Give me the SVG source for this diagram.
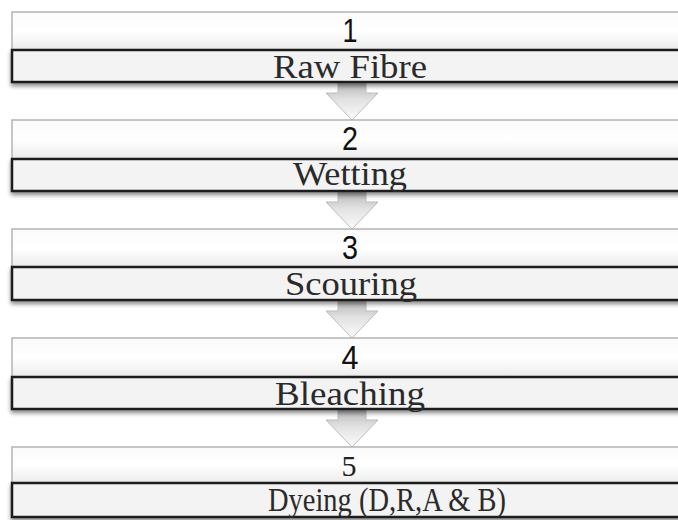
<svg xmlns="http://www.w3.org/2000/svg" width="678" height="520" viewBox="0 0 678 520">
<defs>
<linearGradient id="topfill" x1="0" y1="0" x2="0" y2="1">
<stop offset="0" stop-color="#fafafa"/>
<stop offset="0.5" stop-color="#ffffff"/>
<stop offset="1" stop-color="#ececec"/>
</linearGradient>
<linearGradient id="arrowfill" x1="0" y1="0" x2="0" y2="1">
<stop offset="0" stop-color="#b8b8b8"/>
<stop offset="0.45" stop-color="#e2e2e2"/>
<stop offset="1" stop-color="#fbfbfb"/>
</linearGradient>
<filter id="shadow" x="-5%" y="-30%" width="110%" height="170%">
<feGaussianBlur in="SourceAlpha" stdDeviation="2"/>
<feOffset dx="0" dy="3" result="b"/>
<feComponentTransfer><feFuncA type="linear" slope="0.45"/></feComponentTransfer>
<feMerge><feMergeNode/><feMergeNode in="SourceGraphic"/></feMerge>
</filter>
</defs>
<style>
.top{fill:url(#topfill);stroke:#b4b4b4;stroke-width:1.5}
.bot{fill:#f3f3f3;stroke:#1c1c1c;stroke-width:2.5}
.num{font-family:"Liberation Sans","DejaVu Sans",sans-serif;font-size:33px;fill:#111;text-anchor:middle}
.num5{font-family:"Liberation Serif","DejaVu Serif",serif;font-size:30px;fill:#222;text-anchor:middle}
.lbl{font-family:"Liberation Serif","DejaVu Serif",serif;font-size:33px;fill:#2a2a2a;text-anchor:middle}
.big{font-size:34px}
.arr{fill:url(#arrowfill);stroke:#bdbdbd;stroke-width:1}
</style>
<rect width="678" height="520" fill="#ffffff"/>
<g id="connectors">
<path class="arr" d="M338,83 H366 V93 H378 L352,120 L326,93 H338 Z"/>
<path class="arr" d="M338,192 H366 V202 H378 L352,229 L326,202 H338 Z"/>
<path class="arr" d="M338,301 H366 V311 H378 L352,338 L326,311 H338 Z"/>
<path class="arr" d="M338,410 H366 V420 H378 L352,447 L326,420 H338 Z"/>
</g>
<g id="node1">
<rect class="top" x="12" y="12" width="690" height="38"/>
<rect class="bot" x="12" y="50" width="690" height="32" filter="url(#shadow)"/>
<text class="num" x="350" y="42" textLength="15" lengthAdjust="spacingAndGlyphs">1</text>
<text class="lbl" x="350" y="78" textLength="154" lengthAdjust="spacingAndGlyphs">Raw Fibre</text>
</g>
<g id="node2">
<rect class="top" x="12" y="120" width="690" height="39"/>
<rect class="bot" x="12" y="159" width="690" height="32" filter="url(#shadow)"/>
<text class="num" x="350" y="150" textLength="16" lengthAdjust="spacingAndGlyphs">2</text>
<text class="lbl" x="350" y="185" textLength="114" lengthAdjust="spacingAndGlyphs">Wetting</text>
</g>
<g id="node3">
<rect class="top" x="12" y="229" width="690" height="38"/>
<rect class="bot" x="12" y="267" width="690" height="33" filter="url(#shadow)"/>
<text class="num" x="350" y="259" textLength="16" lengthAdjust="spacingAndGlyphs">3</text>
<text class="lbl" x="351" y="295" textLength="132" lengthAdjust="spacingAndGlyphs">Scouring</text>
</g>
<g id="node4">
<rect class="top" x="12" y="338" width="690" height="39"/>
<rect class="bot" x="12" y="377" width="690" height="32" filter="url(#shadow)"/>
<text class="num" x="350" y="369" textLength="17" lengthAdjust="spacingAndGlyphs">4</text>
<text class="lbl" x="350" y="405" textLength="150" lengthAdjust="spacingAndGlyphs">Bleaching</text>
</g>
<g id="node5">
<rect class="top" x="12" y="447" width="690" height="36"/>
<rect class="bot" x="12" y="483" width="690" height="34" filter="url(#shadow)"/>
<text class="num5" x="349" y="476" textLength="15" lengthAdjust="spacingAndGlyphs">5</text>
<text class="lbl big" x="387" y="511" textLength="238" lengthAdjust="spacingAndGlyphs">Dyeing (D,R,A &amp; B)</text>
</g>
</svg>
